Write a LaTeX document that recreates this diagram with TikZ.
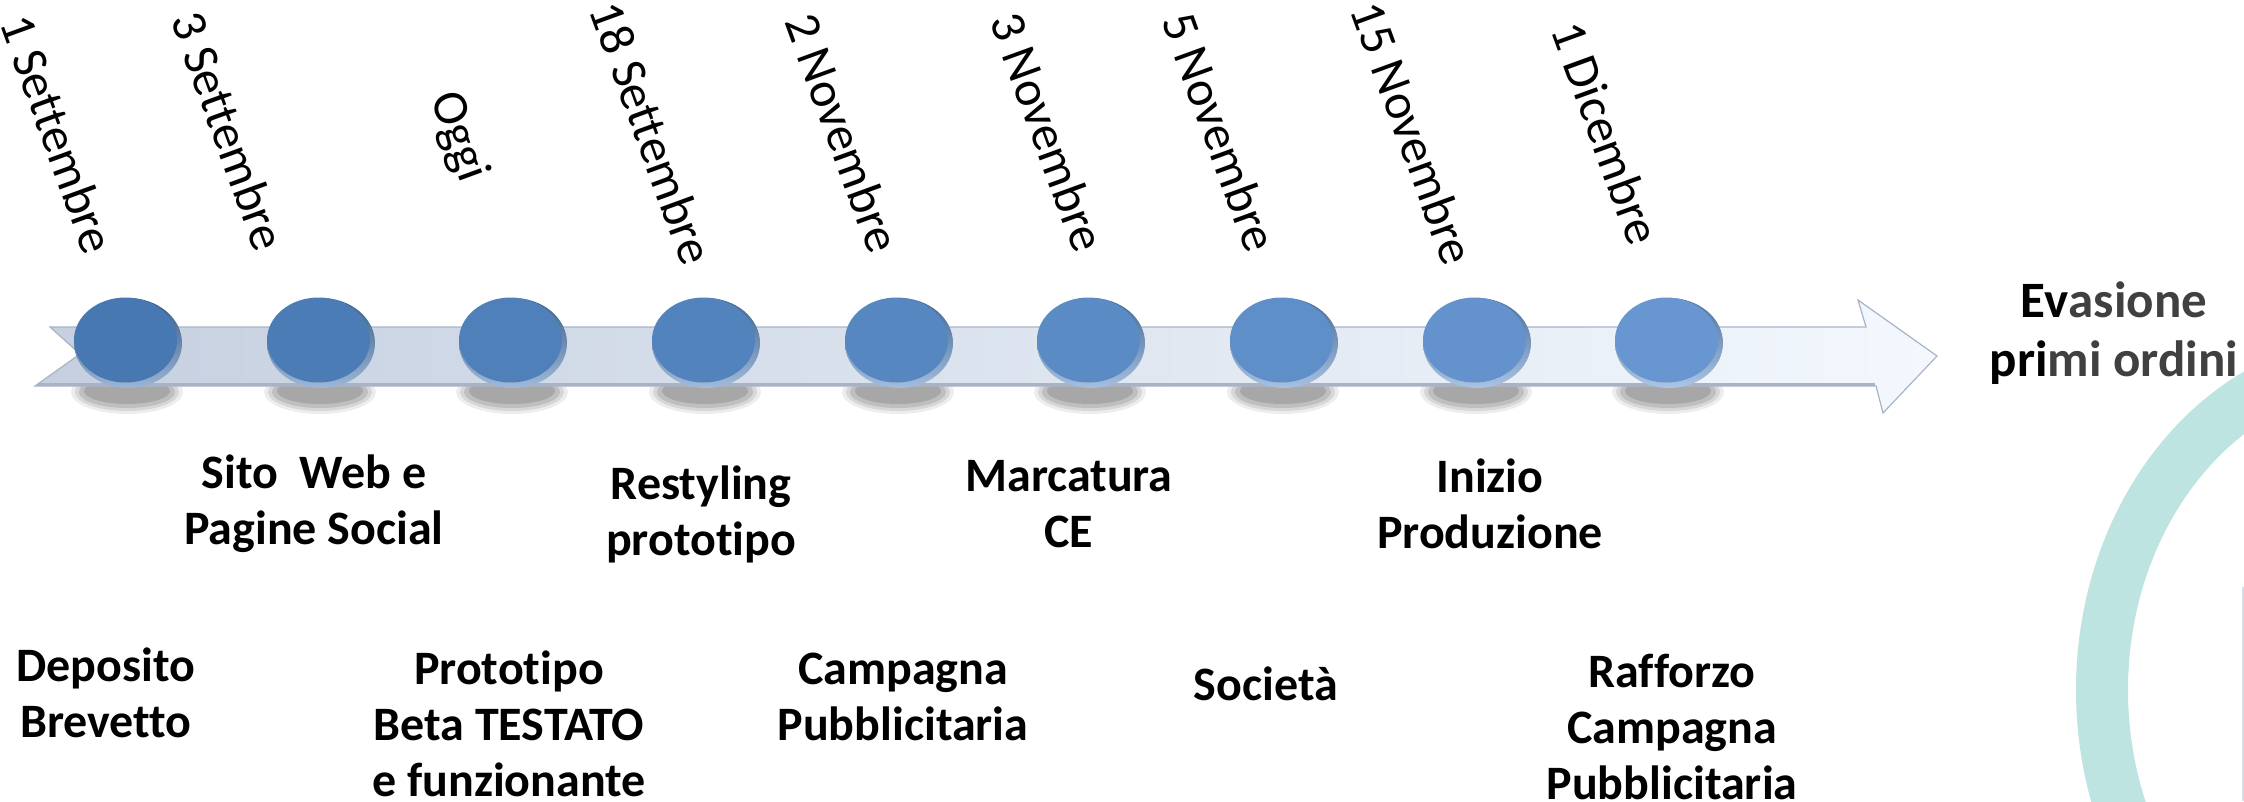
\documentclass[tikz,border=0pt]{standalone}
\usepackage{fontspec}
\setmainfont{Carlito}[Ligatures=NoCommon]
\definecolor{discL}{HTML}{4878B2}
\definecolor{discR}{HTML}{6796D0}
\definecolor{barL}{HTML}{C5CFDF}
\definecolor{barR}{HTML}{F3F8FE}
\definecolor{barEdge}{HTML}{A8B4C6}
\definecolor{ringC}{HTML}{BEE4E1}
\definecolor{txtGray}{HTML}{404040}
\tikzset{
  datelabel/.style={rotate=-70, font=\fontsize{50}{60}\selectfont, inner sep=0pt},
  milestone/.style={align=center, font=\fontsize{48}{56}\selectfont\bfseries, inner sep=0pt},
  goalstyle/.style={align=center, font=\fontsize{51}{59}\selectfont\bfseries, inner sep=0pt},
}
\begin{document}
\begin{tikzpicture}[x=1pt,y=-1pt]
\useasboundingbox (0,0) rectangle (2244,801);
\clip (0,0) rectangle (2244,801);
\fill[white] (0,0) rectangle (2244,801);
% decorative ring
\draw[ringC, line width=52pt] (2380,690) ellipse [x radius=278, y radius=330];
\draw[barEdge!45, line width=2pt] (2243,587) -- (2243,801);
% shadows
\foreach \x in {127,320,512,705,898,1090,1283,1476,1668} {
  \fill[black, opacity=0.07] (\x,392) ellipse [x radius=56, y radius=22];
  \fill[black, opacity=0.09] (\x,392) ellipse [x radius=52, y radius=19];
  \fill[black, opacity=0.11] (\x,392) ellipse [x radius=48, y radius=16];
  \fill[black, opacity=0.12] (\x,391) ellipse [x radius=43, y radius=13];
}
% timeline arrow
\shadedraw[left color=barL, right color=barR, draw=barEdge, line width=1.2pt]
  (50,327) -- (1866,327) -- (1858,300) -- (1937,356) -- (1883,413) -- (1876,386) -- (35,386) -- (80,354) -- cycle;
\draw[barEdge, line width=3pt] (38,384.5) -- (1875,384.5);
% discs
\foreach \x [count=\i from 0] in {127,320,512,705,898,1090,1283,1476,1668} {
  \pgfmathtruncatemacro{\p}{\i*12.5}
  \colorlet{dc}{discR!\p!discL}
  \shade[top color=dc!75!black, bottom color=dc!55!white] (\x+1,343) ellipse [x radius=54, y radius=45];
  \fill[dc] (\x-1.5,340) ellipse [x radius=51.5, y radius=42.5];
}
% date labels
\node[datelabel] (d1) at (58,134) {1 Settembre};
\node[datelabel] (d2) at (229,131) {3 Settembre};
\node[datelabel] (d3) at (458,137) {Oggi};
\node[datelabel] (d4) at (652,133) {18 Settembre};
\node[datelabel] (d5) at (843,133) {2 Novembre};
\node[datelabel] (d6) at (1048,132) {3 Novembre};
\node[datelabel] (d7) at (1220,132) {5 Novembre};
\node[datelabel] (d8) at (1413,133) {15 Novembre};
\node[datelabel] (d9) at (1606,133) {1 Dicembre};
% milestones above row
\node[milestone] (m2) at (314,504) {Sito\ \ Web e\\Pagine Social};
\node[milestone] (m4) at (701,514) {Restyling\\prototipo};
\node[milestone] (m6) at (1069,504) {Marcatura\\CE};
\node[milestone] (m8) at (1490,504) {Inizio\\Produzione};
% milestones lower row
\node[milestone] (m1) at (106,693) {Deposito\\Brevetto};
\node[milestone] (m3) at (509,724) {Prototipo\\Beta TESTATO\\e funzionante};
\node[milestone] (m5) at (903,697) {Campagna\\Pubblicitaria};
\node[milestone] (m7) at (1266,684) {Società};
\node[milestone] (m9) at (1672,727) {Rafforzo\\Campagna\\Pubblicitaria};
% goal
\node[goalstyle] (goal) at (2114,333) {Ev\textcolor{txtGray}{asione}\\pri\textcolor{txtGray}{mi ordini}};
\end{tikzpicture}
\end{document}
